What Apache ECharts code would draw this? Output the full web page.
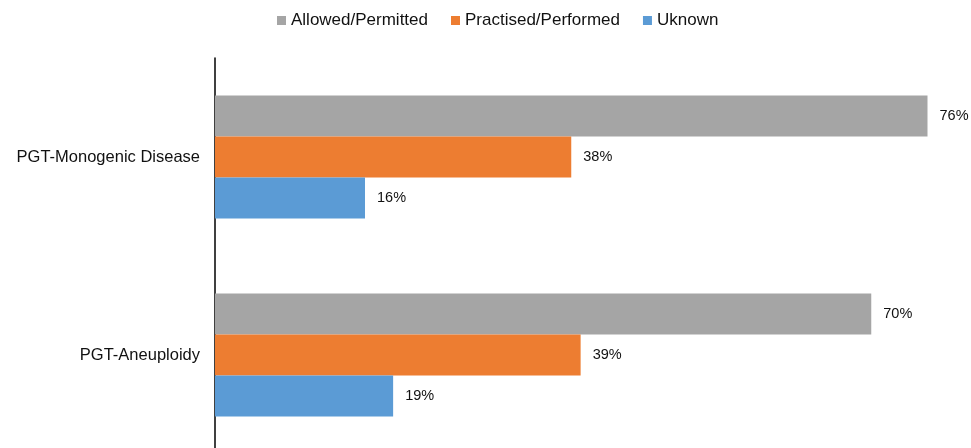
<!DOCTYPE html>
<html>
<head>
<meta charset="utf-8">
<script src="https://cdn.jsdelivr.net/npm/echarts@6/dist/echarts.min.js"></script>
<style>
  html, body { margin: 0; padding: 0; background: #fff; }
  #chart { width: 971px; height: 448px; }
</style>
</head>
<body>
<div id="chart"></div>
<script>
// Categories (top to bottom) and percentage values per series
var categories = ['PGT-Monogenic Disease', 'PGT-Aneuploidy'];
var seriesNames = ['Allowed/Permitted', 'Practised/Performed', 'Uknown'];
var allowedValues = [76, 70];
var practisedValues = [38, 39];
var unknownValues = [16, 19];
var seriesColors = ['#A5A5A5', '#ED7D31', '#5B9BD5'];

var FONT = '"Liberation Sans", Arial, Helvetica, sans-serif';

function barSeries(name, values, color) {
  return {
    name: name,
    type: 'bar',
    data: values,
    barWidth: 41,
    barGap: '0%',
    itemStyle: { color: color },
    label: {
      show: true,
      position: 'right',
      distance: 12,
      formatter: function (p) { return p.value + '%'; },
      color: '#111',
      fontFamily: FONT,
      fontSize: 14.5
    },
    emphasis: { disabled: true }
  };
}

var chart = echarts.init(document.getElementById('chart'), null, { renderer: 'canvas' });
chart.setOption({
  animation: false,
  backgroundColor: '#fff',
  legend: {
    data: seriesNames,
    left: 272,
    top: 7,
    itemWidth: 9,
    itemHeight: 9,
    itemGap: 23,
    icon: 'rect',
    textStyle: { fontFamily: FONT, fontSize: 17, color: '#111' }
  },
  // the plot runs a little past the lower edge of the canvas
  grid: {
    left: 215, right: 6, top: 58, bottom: -6,
    containLabel: false,
    outerBoundsMode: 'none'
  },
  xAxis: {
    type: 'value',
    min: 0,
    max: 80,
    show: false
  },
  yAxis: {
    type: 'category',
    data: categories,
    inverse: true,
    axisLine: { show: true, lineStyle: { color: '#000', width: 1.5 } },
    axisTick: { show: false },
    axisLabel: { margin: 15, fontFamily: FONT, fontSize: 16.5, color: '#111' },
    splitLine: { show: false }
  },
  series: [
    barSeries(seriesNames[0], allowedValues, seriesColors[0]),
    barSeries(seriesNames[1], practisedValues, seriesColors[1]),
    barSeries(seriesNames[2], unknownValues, seriesColors[2])
  ]
});
</script>
</body>
</html>
